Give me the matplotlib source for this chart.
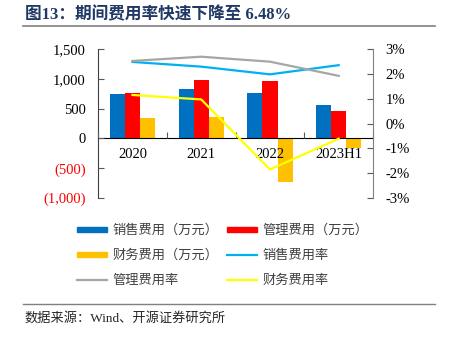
import numpy as np
import matplotlib.pyplot as plt
from matplotlib.lines import Line2D
from matplotlib.patches import Patch
from matplotlib.ticker import FuncFormatter

plt.rcParams['font.family'] = ['Liberation Serif', 'Noto Sans CJK SC']
plt.rcParams['axes.unicode_minus'] = False

years = ['2020', '2021', '2022', '2023H1']
sales_fee = [740, 825, 762, 555]
admin_fee = [757, 981, 964, 459]
fin_fee = [341, 358, -729, -157]
sales_rate = [2.48, 2.29, 1.98, 2.35]
admin_rate = [2.52, 2.69, 2.49, 1.92]
fin_rate = [1.15, 0.97, -1.85, -0.61]

c_blue, c_red, c_orange = '#0070C0', '#FF0000', '#FFC000'
c_sky, c_gray, c_yellow = '#00B0F0', '#A6A6A6', '#FFFF00'

fig = plt.figure(figsize=(4.5, 3.38), dpi=100)
ax = fig.add_axes([0.218, 0.414, 0.611, 0.441])
ax2 = ax.twinx()

x = np.arange(len(years))
w = 0.22
ax.bar(x - w, sales_fee, w, color=c_blue, zorder=2)
ax.bar(x, admin_fee, w, color=c_red, zorder=2)
ax.bar(x + w, fin_fee, w, color=c_orange, zorder=2)
ax.set_axisbelow(False)

ax.set_xlim(-0.5, len(years) - 0.5)
ax.set_ylim(-1000, 1500)
ax.set_yticks([-1000, -500, 0, 500, 1000, 1500])
ax.yaxis.set_major_formatter(FuncFormatter(
    lambda v, p: '({:,.0f})'.format(-v) if v < 0 else '{:,.0f}'.format(v)))
for lab, v in zip(ax.get_yticklabels(), ax.get_yticks()):
    if v < 0:
        lab.set_color('red')

# category axis sits on the zero line, separators between groups
ax.spines['bottom'].set_position(('data', 0))
ax.spines['top'].set_visible(False)
ax.spines['right'].set_visible(False)
ax.set_xticks(np.arange(len(years) + 1) - 0.5)
ax.set_xticklabels([])
ax.set_xticks(x, minor=True)
ax.set_xticklabels(years, minor=True)
ax.tick_params(axis='x', which='major', direction='in', length=4, color='#595959')
ax.tick_params(axis='x', which='minor', length=0, pad=7, labelsize=10.5)
ax.tick_params(axis='y', direction='in', length=4, labelsize=10.5, pad=9, color='#595959')
ax.spines['left'].set_color('#404040')
ax.spines['bottom'].set_color('black')

ax2.plot(x, sales_rate, color=c_sky, lw=1.6, zorder=3)
ax2.plot(x, admin_rate, color=c_gray, lw=1.6, zorder=3)
ax2.plot(x, fin_rate, color=c_yellow, lw=1.6, zorder=3)
ax2.set_ylim(-3, 3)
ax2.set_yticks(range(-3, 4))
ax2.yaxis.set_major_formatter(FuncFormatter(lambda v, p: '{:.0f}%'.format(v)))
ax2.tick_params(axis='y', direction='in', length=4, labelsize=10.5, pad=9, color='#595959')
for s in ['top', 'left', 'bottom']:
    ax2.spines[s].set_visible(False)
ax2.spines['right'].set_color('#808080')

handles = [Patch(color=c_blue), Patch(color=c_red), Patch(color=c_orange),
           Line2D([], [], color=c_sky, lw=1.6), Line2D([], [], color=c_gray, lw=1.6),
           Line2D([], [], color=c_yellow, lw=1.6)]
labels = ['销售费用（万元）', '管理费用（万元）', '财务费用（万元）',
          '销售费用率', '管理费用率', '财务费用率']
# legend fills column by column; this order reads row by row
order = [0, 2, 4, 1, 3, 5]
fig.legend([handles[i] for i in order], [labels[i] for i in order], ncol=2,
           loc='upper left', bbox_to_anchor=(0.145, 0.372), frameon=False,
           prop={'family': 'Noto Sans CJK SC', 'size': 9.5},
           handlelength=2.3, handleheight=0.25, columnspacing=0.6,
           labelspacing=0.9, handletextpad=0.4, labelcolor='#404040')

fig.text(0.055, 0.955, '图13：期间费用率快速下降至 6.48%', fontsize=12,
         fontweight='bold', color='#1F3864', va='center')
fig.add_artist(Line2D([0.05, 0.967], [0.922, 0.922], color='#808080', lw=1.2))
fig.add_artist(Line2D([0.05, 0.967], [0.1, 0.1], color='#808080', lw=1.0))
fig.text(0.055, 0.058, '数据来源：Wind、开源证券研究所', fontsize=9.5,
         color='#262626', va='center')

fig.savefig('out.png', dpi=100)
